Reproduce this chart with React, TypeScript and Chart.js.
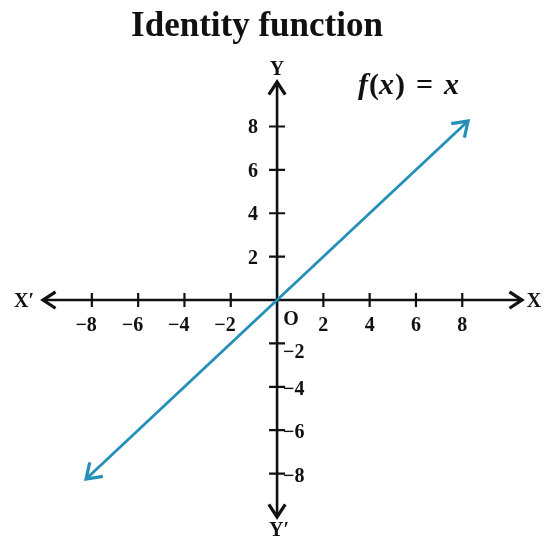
import React, { useEffect, useRef } from "react";
import { Chart, registerables } from "chart.js";

Chart.register(...registerables);

const TITLE = "Identity function";
const X_TICKS = [-8, -6, -4, -2, 2, 4, 6, 8];
const Y_TICKS = [-8, -6, -4, -2, 2, 4, 6, 8];
// f(x) = x, drawn between its two arrow tips
const LINE_X = [-8.25, 8.25];
const LINE_Y = [-8.25, 8.25];

const SERIF = '"Liberation Serif", "Times New Roman", serif';
const LINE_COLOR = "#2490b8";
const INK = "#111111";

function fmt(v: number): string {
  return v < 0 ? "\u2212" + Math.abs(v) : String(v);
}

function chevron(ctx: CanvasRenderingContext2D, tx: number, ty: number, ang: number, len: number, half: number) {
  const a1 = ang + Math.PI + half;
  const a2 = ang + Math.PI - half;
  ctx.beginPath();
  ctx.moveTo(tx + Math.cos(a1) * len, ty + Math.sin(a1) * len);
  ctx.lineTo(tx, ty);
  ctx.lineTo(tx + Math.cos(a2) * len, ty + Math.sin(a2) * len);
  ctx.stroke();
}

export default function App() {
  const ref = useRef<HTMLCanvasElement>(null);

  useEffect(() => {
    const canvas = ref.current;
    if (!canvas) return;

    const axesPlugin = {
      id: "axesPlugin",
      beforeDatasetsDraw(chart: any) {
        const ctx: CanvasRenderingContext2D = chart.ctx;
        const area = chart.chartArea;
        const xs = chart.scales.x;
        const ys = chart.scales.y;
        const x0 = xs.getPixelForValue(0);
        const y0 = ys.getPixelForValue(0);
        ctx.save();
        ctx.strokeStyle = INK;
        ctx.lineWidth = 2.6;
        ctx.lineJoin = "miter";
        // axes
        ctx.beginPath();
        ctx.moveTo(area.left + 1, y0);
        ctx.lineTo(area.right - 1, y0);
        ctx.moveTo(x0, area.top + 1);
        ctx.lineTo(x0, area.bottom - 1);
        ctx.stroke();
        // arrows
        ctx.lineWidth = 3.2;
        chevron(ctx, area.left, y0, Math.PI, 15, 0.58);
        chevron(ctx, area.right, y0, 0, 15, 0.58);
        chevron(ctx, x0, area.top, -Math.PI / 2, 15, 0.58);
        chevron(ctx, x0, area.bottom, Math.PI / 2, 15, 0.58);
        // tick marks
        ctx.lineWidth = 2.2;
        ctx.beginPath();
        for (const v of X_TICKS) {
          const px = xs.getPixelForValue(v);
          ctx.moveTo(px, y0 - 7);
          ctx.lineTo(px, y0 + 7);
        }
        for (const v of Y_TICKS) {
          const py = ys.getPixelForValue(v);
          ctx.moveTo(x0 - 8, py);
          ctx.lineTo(x0 + 8, py);
        }
        ctx.stroke();

        // labels
        ctx.fillStyle = INK;
        ctx.font = "bold 20px " + SERIF;
        ctx.textBaseline = "alphabetic";
        for (const v of X_TICKS) {
          const px = xs.getPixelForValue(v);
          const digit = String(Math.abs(v));
          const dw = ctx.measureText(digit).width;
          ctx.textAlign = "right";
          ctx.fillText(fmt(v), px + dw / 2, y0 + 31);
        }
        for (const v of Y_TICKS) {
          const py = ys.getPixelForValue(v);
          if (v > 0) {
            ctx.textAlign = "right";
            ctx.fillText(fmt(v), x0 - 19, py + 7);
          } else {
            ctx.textAlign = "left";
            const extra = v === -2 ? 8 : 1;
            ctx.fillText(fmt(v), x0 + 6, py + 7 + extra);
          }
        }
        ctx.textAlign = "center";
        ctx.fillText("O", x0 + 14, y0 + 25);

        // axis names
        ctx.font = "bold 20px " + SERIF;
        ctx.textAlign = "center";
        ctx.fillText("Y", x0, area.top - 7);
        ctx.fillText("Y\u2032", x0 + 2, area.bottom + 19);
        ctx.fillText("X\u2032", area.left - 19, y0 + 7);
        ctx.fillText("X", area.right + 12, y0 + 7);

        // title
        ctx.font = "bold 35px " + SERIF;
        ctx.textAlign = "center";
        ctx.fillText(TITLE, chart.width / 2 - 17, 36);

        // formula f(x) = x
        const parts: [string, boolean, number][] = [
          ["f", true, 1],
          ["(", false, 0],
          ["x", true, 1],
          [")", false, 11],
          ["=", false, 11],
          ["x", true, 0],
        ];
        let cx = 358;
        ctx.textAlign = "left";
        for (const [s, it, gap] of parts) {
          ctx.font = (it ? "italic " : "") + "bold 30px " + SERIF;
          ctx.fillText(s, cx, 94);
          cx += ctx.measureText(s).width + gap;
        }
        ctx.restore();
      },
      afterDatasetsDraw(chart: any) {
        const ctx: CanvasRenderingContext2D = chart.ctx;
        const pts = chart.getDatasetMeta(0).data;
        if (pts.length < 2) return;
        const a = pts[0];
        const b = pts[pts.length - 1];
        const ang = Math.atan2(b.y - a.y, b.x - a.x);
        ctx.save();
        ctx.strokeStyle = LINE_COLOR;
        ctx.lineWidth = 3.2;
        ctx.lineJoin = "miter";
        chevron(ctx, b.x, b.y, ang, 17, 0.6);
        chevron(ctx, a.x, a.y, ang + Math.PI, 17, 0.6);
        ctx.restore();
      },
    };

    const chart = new Chart(canvas, {
      type: "line",
      data: {
        datasets: [
          {
            data: LINE_X.map((x, i) => ({ x, y: LINE_Y[i] })),
            borderColor: LINE_COLOR,
            borderWidth: 2.8,
            pointRadius: 0,
            fill: false,
          },
        ],
      },
      options: {
        responsive: false,
        animation: false,
        devicePixelRatio: 1,
        layout: { padding: { left: 43, right: 26, top: 82, bottom: 29 } },
        scales: {
          x: { type: "linear", min: -10.11, max: 10.58, display: false },
          y: { type: "linear", min: -10.0, max: 10.05, display: false },
        },
        plugins: {
          legend: { display: false },
          tooltip: { enabled: false },
          title: { display: false },
        },
      },
      plugins: [axesPlugin],
    } as any);

    return () => chart.destroy();
  }, []);

  return (
    <div style={{ position: "absolute", left: 0, top: 0, width: 548, height: 546, background: "#fff" }}>
      <canvas ref={ref} width={548} height={546} style={{ width: 548, height: 546, display: "block" }} />
    </div>
  );
}
